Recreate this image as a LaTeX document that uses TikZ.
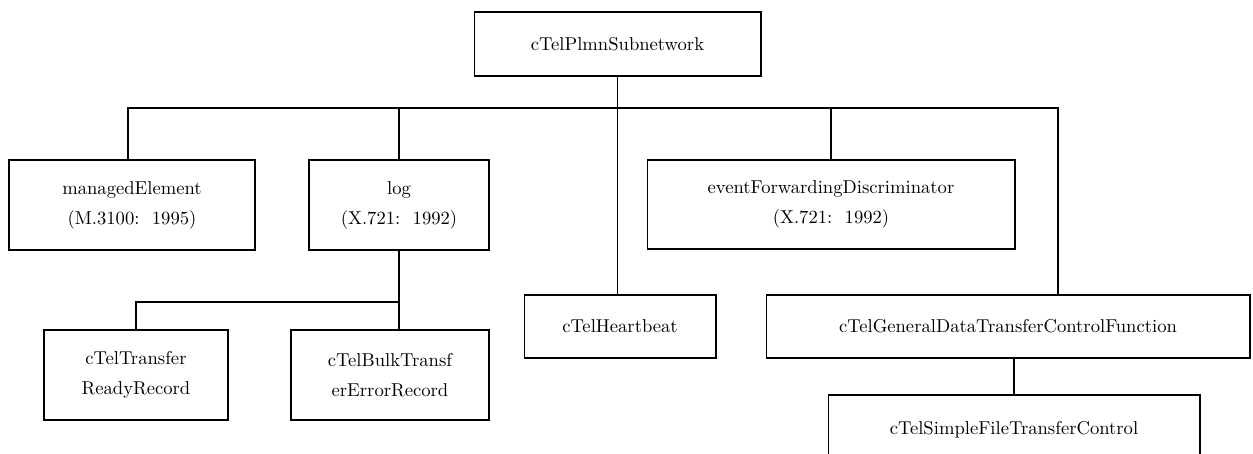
\documentclass[tikz,border=0pt]{standalone}
\usepackage{tikz}
\tikzset{
  classbox/.style={draw, line width=0.6pt, inner sep=2pt, align=center,
    font=\fontsize{10.6pt}{17pt}\selectfont},
  link/.style={line width=0.6pt}
}
\begin{document}
\begin{tikzpicture}[x=0.02cm, y=-0.02cm]
\useasboundingbox (0,0) rectangle (1253,453);

\node[classbox, minimum width=5.74cm, minimum height=1.28cm] (plmn) at (617.5,44) {cTelPlmnSubnetwork};

\node[classbox, minimum width=4.92cm, minimum height=1.8cm] (melem) at (132,205) {managedElement\\(M.3100:~~1995)};
\node[classbox, minimum width=3.6cm, minimum height=1.8cm] (log) at (399,205) {log\\(X.721:~~1992)};
\node[classbox, minimum width=7.36cm, minimum height=1.78cm] (efd) at (831,204.5) {eventForwardingDiscriminator\\(X.721:~~1992)};

\node[classbox, minimum width=3.84cm, minimum height=1.26cm] (heart) at (620,326.5) {cTelHeartbeat};
\node[classbox, minimum width=9.68cm, minimum height=1.26cm] (gdtcf) at (1008,326.5) {cTelGeneralDataTransferControlFunction};

\node[classbox, minimum width=3.68cm, minimum height=1.8cm] (ready) at (136,375) {cTelTransfer\\ReadyRecord};
\node[classbox, minimum width=3.96cm, minimum height=1.8cm] (bulk) at (390,375) {cTelBulkTransf\\erErrorRecord};

\node[classbox, minimum width=7.44cm, minimum height=1.4cm] (sftc) at (1014,430) {cTelSimpleFileTransferControl};

\coordinate (busr) at (1058,108);
\coordinate (logbus) at (399,302);

\draw[link] (plmn.south) -- (plmn.south |- heart.north);
\draw[link] ([xshift=-4*0.02cm]melem.north) |- (busr) -- (busr |- gdtcf.north);
\draw[link] (log.north) -- (log.north |- busr);
\draw[link] (efd.north) -- (efd.north |- busr);

\draw[link] (log.south) -- (log.south |- bulk.north);
\draw[link] (ready.north) |- (logbus);

\draw[link] ([xshift=6*0.02cm]gdtcf.south) -- ([xshift=6*0.02cm]gdtcf.south |- sftc.north);
\end{tikzpicture}
\end{document}
